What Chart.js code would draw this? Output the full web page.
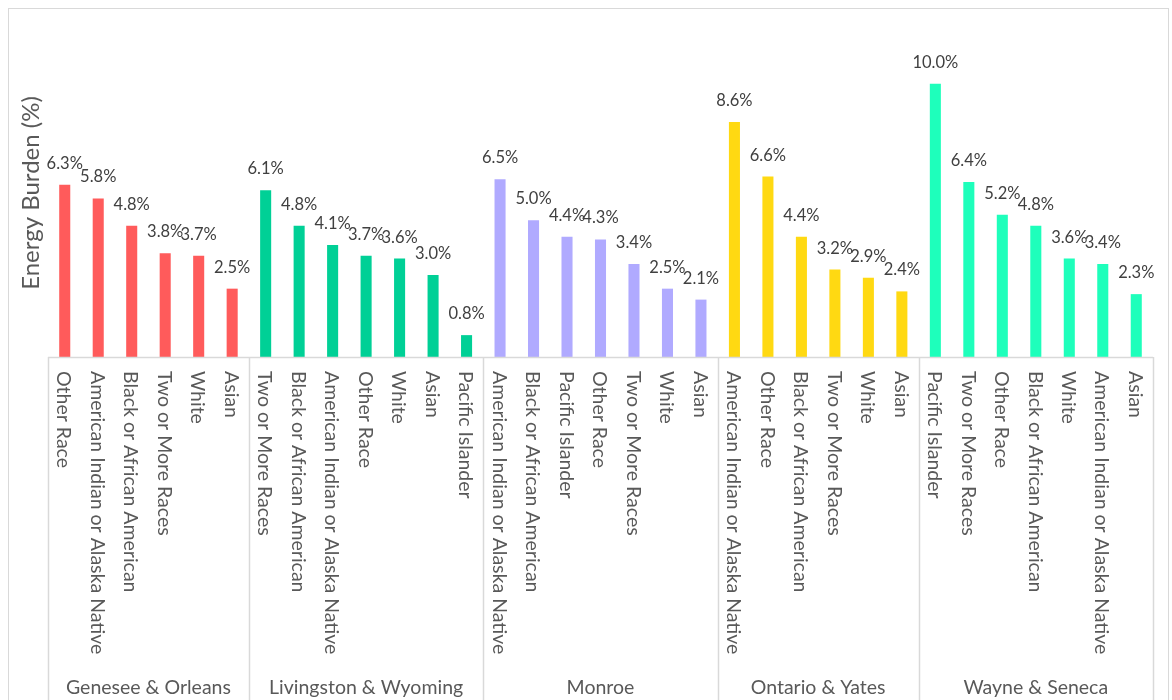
<!DOCTYPE html>
<html><head><meta charset="utf-8">
<script src="https://cdn.jsdelivr.net/npm/chart.js@4.4.1/dist/chart.umd.min.js"></script>
<style>html,body{margin:0;padding:0;background:#fff;overflow:hidden}#wrap{width:1172px;height:700px;position:relative}</style>
</head><body><div id="wrap"><canvas id="c" width="1172" height="700"></canvas></div>
<script>
// ---- data ----
const groupNames = ["Genesee & Orleans","Livingston & Wyoming","Monroe","Ontario & Yates","Wayne & Seneca"];
const geneseeCats = ["Other Race","American Indian or Alaska Native","Black or African American","Two or More Races","White","Asian"];
const geneseeVals = [6.3,5.8,4.8,3.8,3.7,2.5];
const livingstonCats = ["Two or More Races","Black or African American","American Indian or Alaska Native","Other Race","White","Asian","Pacific Islander"];
const livingstonVals = [6.1,4.8,4.1,3.7,3.6,3.0,0.8];
const monroeCats = ["American Indian or Alaska Native","Black or African American","Pacific Islander","Other Race","Two or More Races","White","Asian"];
const monroeVals = [6.5,5.0,4.4,4.3,3.4,2.5,2.1];
const ontarioCats = ["American Indian or Alaska Native","Other Race","Black or African American","Two or More Races","White","Asian"];
const ontarioVals = [8.6,6.6,4.4,3.2,2.9,2.4];
const wayneCats = ["Pacific Islander","Two or More Races","Other Race","Black or African American","White","American Indian or Alaska Native","Asian"];
const wayneVals = [10.0,6.4,5.2,4.8,3.6,3.4,2.3];
const groupColors = ["#FF5B5B","#00D096","#B0AAFF","#FFD912","#1EFFBB"];
const yTitle = "Energy Burden (%)";

const groupCats = [geneseeCats, livingstonCats, monroeCats, ontarioCats, wayneCats];
const groupVals = [geneseeVals, livingstonVals, monroeVals, ontarioVals, wayneVals];
const labels = [], values = [], colors = [], groupIdx = [];
groupCats.forEach((cats,g)=>cats.forEach((c,i)=>{labels.push(c);values.push(groupVals[g][i]);colors.push(groupColors[g]);groupIdx.push(g);}));

const FONT = 'Lato, "Open Sans", sans-serif';
const excelPlugin = {
  id:'excelAxis',
  afterDatasetsDraw(chart){
    const {ctx, scales:{x}, chartArea} = chart;
    ctx.save();
    // outer border
    ctx.strokeStyle='#D9D9D9'; ctx.lineWidth=1;
    ctx.strokeRect(8.5,8.5,1160,740);
    // data labels
    const meta = chart.getDatasetMeta(0);
    ctx.fillStyle='#404040'; ctx.font='16.5px '+FONT; ctx.textAlign='center'; ctx.textBaseline='alphabetic';
    meta.data.forEach((bar,i)=>{ ctx.fillText(values[i].toFixed(1)+'%', bar.x, bar.y-16); });
    // baseline
    const bottom = chartArea.bottom;
    ctx.strokeStyle='#D9D9D9'; ctx.lineWidth=1.5;
    ctx.beginPath(); ctx.moveTo(x.left, bottom+0.5); ctx.lineTo(x.right, bottom+0.5); ctx.stroke();
    // category labels, rotated clockwise
    ctx.fillStyle='#595959'; ctx.font='19.5px '+FONT;
    labels.forEach((lab,i)=>{
      const px = x.getPixelForValue(i);
      ctx.save(); ctx.translate(px-1, bottom+14); ctx.rotate(Math.PI/2);
      ctx.textAlign='left'; ctx.textBaseline='middle'; ctx.fillText(lab,0,0); ctx.restore();
    });
    // group separators and group labels
    let start = 0;
    ctx.font='19.5px '+FONT; ctx.textAlign='center'; ctx.textBaseline='middle';
    const edges=[x.getPixelForValue(-0.5)];
    groupCats.forEach((cats,g)=>{
      const l = x.getPixelForValue(start-0.5), r = x.getPixelForValue(start+cats.length-0.5);
      edges.push(r);
      ctx.fillText(groupNames[g], (l+r)/2, 688);
      start += cats.length;
    });
    ctx.beginPath();
    edges.forEach(e=>{ const xx=Math.round(e)+0.5; ctx.moveTo(xx,bottom); ctx.lineTo(xx,700); });
    ctx.stroke();
    // y title
    ctx.font='24px '+FONT; ctx.fillStyle='#595959';
    ctx.save(); ctx.translate(31, (chartArea.top+chartArea.bottom)/2); ctx.rotate(-Math.PI/2);
    ctx.fillText(yTitle,0,0); ctx.restore();
    ctx.restore();
  }
};

new Chart(document.getElementById('c'), {
  type:'bar',
  data:{ labels: labels, datasets:[{ data: values, backgroundColor: colors, borderWidth:0, barPercentage:0.33, categoryPercentage:1 }]},
  options:{
    responsive:false, animation:false, devicePixelRatio:1,
    layout:{ padding:{ left:48, right:19, top:29, bottom:0 } },
    plugins:{ legend:{display:false}, tooltip:{enabled:false} },
    scales:{
      x:{ display:true, grid:{display:false}, border:{display:false}, ticks:{display:false},
          afterFit(s){ s.height = 343; } },
      y:{ display:false, min:0, max:12 }
    }
  },
  plugins:[excelPlugin]
});
</script></body></html>
